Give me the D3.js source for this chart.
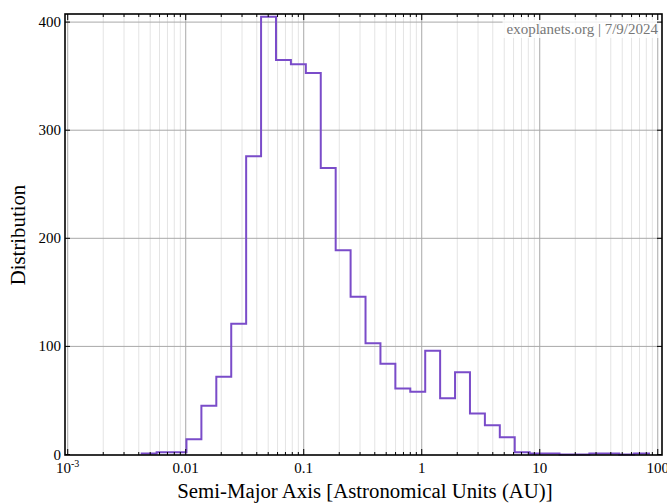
<!DOCTYPE html>
<html>
<head>
<meta charset="utf-8">
<script src="https://cdn.jsdelivr.net/npm/d3@7"></script>
<style>
  html, body { margin: 0; padding: 0; background: #fff; }
  svg { display: block; }
  text { font-family: "Liberation Serif", "Times New Roman", serif; }
</style>
</head>
<body>
<svg id="chart" width="667" height="503"></svg>
<script>
// Histogram of planet semi-major axes, log-spaced bins (AU)
const binLogMin = -2.373;   // log10 of smallest semi-major axis
const binLogMax = 1.926;    // log10 of largest semi-major axis
const binCounts = [1, 2, 2, 14, 45, 72, 121, 276, 405, 365, 361, 353, 265, 189, 146,
                   103, 84, 61, 58, 96, 52, 76, 38, 27, 16, 2, 1, 1, 0, 0, 1, 1, 0, 1];

const xTickValues = [0.001, 0.01, 0.1, 1, 10, 100];
const xTickLabels = ["10", "0.01", "0.1", "1", "10", "100"];
const yTickValues = [0, 100, 200, 300, 400];

const xTitle = "Semi-Major Axis [Astronomical Units (AU)]";
const yTitle = "Distribution";
const credit = "exoplanets.org | 7/9/2024";

const svg = d3.select("#chart");
const L = 65, R = 662, T = 14, B = 455;

const x = d3.scaleLog().domain([Math.pow(10, -3.023), Math.pow(10, 2.036)]).range([L, R]);
const y = d3.scaleLinear().domain([0, 407.5]).range([454.5, T]);

// bin edges evenly spaced in log10
const nBins = binCounts.length;
const step = (binLogMax - binLogMin) / nBins;
const bins = binCounts.map((c, i) => ({
  x0: Math.pow(10, binLogMin + i * step),
  x1: Math.pow(10, binLogMin + (i + 1) * step),
  count: c
}));

// minor and major gridlines
const minorX = [];
for (let e = -3; e <= 2; e++) {
  for (let m = 2; m <= 9; m++) {
    const v = m * Math.pow(10, e);
    if (v > x.domain()[0] && v < x.domain()[1]) minorX.push(v);
  }
}
const grid = svg.append("g");
grid.selectAll(".minor").data(minorX).join("line")
  .attr("x1", d => x(d)).attr("x2", d => x(d))
  .attr("y1", T).attr("y2", B)
  .attr("stroke", "#e4e4e4").attr("stroke-width", 1);
grid.selectAll(".majx").data(xTickValues.filter(v => v > x.domain()[0])).join("line")
  .attr("x1", d => x(d)).attr("x2", d => x(d))
  .attr("y1", T).attr("y2", B)
  .attr("stroke", "#a8a8a8").attr("stroke-width", 1);
grid.selectAll(".majy").data(yTickValues.filter(v => v > 0)).join("line")
  .attr("x1", L).attr("x2", R)
  .attr("y1", d => y(d)).attr("y2", d => y(d))
  .attr("stroke", "#a8a8a8").attr("stroke-width", 1);

// credit with a translucent backing box
const cg = svg.append("g");
const ct = cg.append("text")
  .attr("x", 658).attr("y", 34)
  .attr("text-anchor", "end")
  .attr("font-size", 15)
  .attr("fill", "#777")
  .text(credit);
const bb = ct.node().getBBox();
cg.insert("rect", "text")
  .attr("x", bb.x - 4).attr("y", bb.y - 1)
  .attr("width", bb.width + 6).attr("height", bb.height + 2)
  .attr("fill", "#fff").attr("fill-opacity", 0.8);

// step outline of the histogram
const pts = [];
bins.forEach(b => {
  pts.push([x(b.x0), y(b.count)]);
  pts.push([x(b.x1), y(b.count)]);
});
pts.unshift([x(bins[0].x0), y(0)]);
pts.push([x(bins[nBins - 1].x1), y(0)]);
svg.append("path")
  .attr("d", d3.line()(pts))
  .attr("fill", "none")
  .attr("stroke", "#7a4cc9")
  .attr("stroke-width", 2)
  .attr("stroke-linejoin", "miter");

// inward ticks on all four sides
const ticks = svg.append("g").attr("stroke", "#000").attr("stroke-width", 1);
const majX = xTickValues.filter(v => v > x.domain()[0] && v < x.domain()[1]);
majX.forEach(v => {
  ticks.append("line").attr("x1", x(v)).attr("x2", x(v)).attr("y1", B).attr("y2", B - 6);
  ticks.append("line").attr("x1", x(v)).attr("x2", x(v)).attr("y1", T).attr("y2", T + 6);
});
minorX.forEach(v => {
  ticks.append("line").attr("x1", x(v)).attr("x2", x(v)).attr("y1", B).attr("y2", B - 3);
  ticks.append("line").attr("x1", x(v)).attr("x2", x(v)).attr("y1", T).attr("y2", T + 3);
});
yTickValues.forEach(v => {
  ticks.append("line").attr("x1", L).attr("x2", L + 5).attr("y1", y(v)).attr("y2", y(v));
  ticks.append("line").attr("x1", R).attr("x2", R - 5).attr("y1", y(v)).attr("y2", y(v));
});

// frame
svg.append("rect")
  .attr("x", L).attr("y", T).attr("width", R - L).attr("height", B - T)
  .attr("fill", "none").attr("stroke", "#000").attr("stroke-width", 1.6);

// x tick labels
const xl = svg.append("g").attr("font-size", 15).attr("fill", "#000");
xTickValues.forEach((v, i) => {
  const t = xl.append("text")
    .attr("x", x(v)).attr("y", 473)
    .attr("text-anchor", "middle");
  t.append("tspan").text(xTickLabels[i]);
  if (i === 0) {
    t.append("tspan").attr("dy", -6).attr("font-size", 10).text("-3");
  }
});

// y tick labels
const yl = svg.append("g").attr("font-size", 15).attr("fill", "#000");
yTickValues.forEach(v => {
  yl.append("text")
    .attr("x", 61).attr("y", y(v) + 5)
    .attr("text-anchor", "end")
    .text(v);
});

// axis titles
svg.append("text")
  .attr("x", 365).attr("y", 498)
  .attr("text-anchor", "middle")
  .attr("font-size", 20.8)
  .text(xTitle);
svg.append("text")
  .attr("transform", "translate(25,235) rotate(-90)")
  .attr("text-anchor", "middle")
  .attr("font-size", 20.8)
  .text(yTitle);
</script>
</body>
</html>
